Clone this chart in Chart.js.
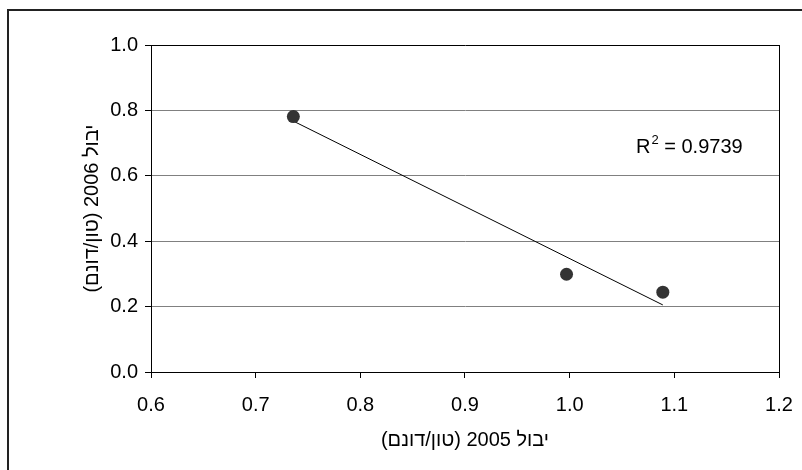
<!DOCTYPE html>
<html>
<head>
<meta charset="utf-8">
<script src="https://cdn.jsdelivr.net/npm/chart.js@4"></script>
<style>
  html, body { margin: 0; padding: 0; background: #fff; }
  #wrap { position: relative; width: 802px; height: 470px; }
</style>
</head>
<body>
<div id="wrap"><canvas id="chart" width="802" height="470"></canvas></div>
<script>
// Yield data (ton/dunam)
const yield2005 = [0.736, 0.997, 1.089];
const yield2006 = [0.781, 0.299, 0.244];
const xTickRange = [0.6, 1.2];
const yTickRange = [0.0, 1.0];
const xTitle = 'יבול 2005 (טון/דונם)';
const yTitle = 'יבול 2006 (טון/דונם)';
const r2Label = '0.9739';

// Least squares trend line
function trendLine(xs, ys) {
    const n = xs.length;
    const mx = xs.reduce((a, b) => a + b, 0) / n;
    const my = ys.reduce((a, b) => a + b, 0) / n;
    let sxy = 0, sxx = 0;
    for (let i = 0; i < n; i++) {
        sxy += (xs[i] - mx) * (ys[i] - my);
        sxx += (xs[i] - mx) * (xs[i] - mx);
    }
    const slope = sxy / sxx;
    const icpt = my - slope * mx;
    const x0 = Math.min(...xs), x1 = Math.max(...xs);
    return [{ x: x0, y: icpt + slope * x0 }, { x: x1, y: icpt + slope * x1 }];
}

const FONT = '"Liberation Sans", Arial, sans-serif';

// Outer frame and R² text
const extras = {
    id: 'extras',
    beforeDraw(chart) {
        const ctx = chart.ctx;
        ctx.save();
        ctx.strokeStyle = '#222';
        ctx.lineWidth = 2;
        ctx.beginPath();
        ctx.moveTo(8, 470);
        ctx.lineTo(8, 10);
        ctx.lineTo(802, 10);
        ctx.stroke();
        ctx.restore();
    },
    afterDatasetsDraw(chart) {
        const ctx = chart.ctx;
        const a = chart.chartArea;
        ctx.save();
        ctx.fillStyle = '#000';
        ctx.textBaseline = 'alphabetic';
        ctx.textAlign = 'left';
        let x = a.left + 485;
        const y = 153;
        ctx.font = '20px ' + FONT;
        ctx.fillText('R', x, y);
        x += ctx.measureText('R').width;
        ctx.font = '13px ' + FONT;
        ctx.fillText('2', x + 1, y - 9);
        x += ctx.measureText('2').width + 1;
        ctx.font = '20px ' + FONT;
        ctx.fillText(' = ' + r2Label, x, y);
        ctx.restore();
    }
};

const points = yield2005.map((x, i) => ({ x: x, y: yield2006[i] }));

new Chart(document.getElementById('chart'), {
    type: 'scatter',
    data: {
        datasets: [
            {
                data: points,
                pointRadius: 6.5,
                pointBackgroundColor: '#333333',
                pointBorderColor: '#333333',
                pointBorderWidth: 0,
                order: 1
            },
            {
                type: 'line',
                data: trendLine(yield2005, yield2006),
                borderColor: '#000',
                borderWidth: 1,
                pointRadius: 0,
                fill: false,
                order: 2
            }
        ]
    },
    options: {
        responsive: false,
        animation: false,
        events: [],
        layout: { padding: { top: 45, right: 23, left: 0, bottom: 0 } },
        plugins: { legend: { display: false }, tooltip: { enabled: false } },
        scales: {
            x: {
                type: 'linear',
                min: xTickRange[0],
                max: xTickRange[1],
                afterFit(scale) {
                    scale.height = 98;
                    scale.paddingLeft = 0;
                    scale.paddingRight = 0;
                },
                ticks: {
                    stepSize: 0.1,
                    color: '#000',
                    padding: 15,
                    font: { family: FONT, size: 20 },
                    callback: v => v.toFixed(1)
                },
                grid: {
                    drawOnChartArea: true,
                    color: c => (c.index === 6 ? '#000' : 'rgba(0,0,0,0)'),
                    tickColor: '#000',
                    tickLength: 6,
                    lineWidth: 1
                },
                border: { color: '#000', width: 1 },
                title: {
                    display: true,
                    text: xTitle,
                    color: '#000',
                    font: { family: FONT, size: 20 },
                    padding: { top: 0, bottom: 18 }
                }
            },
            y: {
                min: yTickRange[0],
                max: yTickRange[1],
                afterFit(scale) { scale.width = 151; },
                ticks: {
                    stepSize: 0.2,
                    color: '#000',
                    padding: 7,
                    font: { family: FONT, size: 20 },
                    callback: v => v.toFixed(1)
                },
                grid: {
                    color: c => (c.index === 5 ? '#000' : '#808080'),
                    tickColor: '#000',
                    tickLength: 6,
                    lineWidth: 1
                },
                border: { color: '#000', width: 1 },
                title: {
                    display: true,
                    text: yTitle,
                    color: '#000',
                    font: { family: FONT, size: 20 },
                    padding: { top: 80, bottom: 0 }
                }
            }
        }
    },
    plugins: [extras]
});
</script>
</body>
</html>
